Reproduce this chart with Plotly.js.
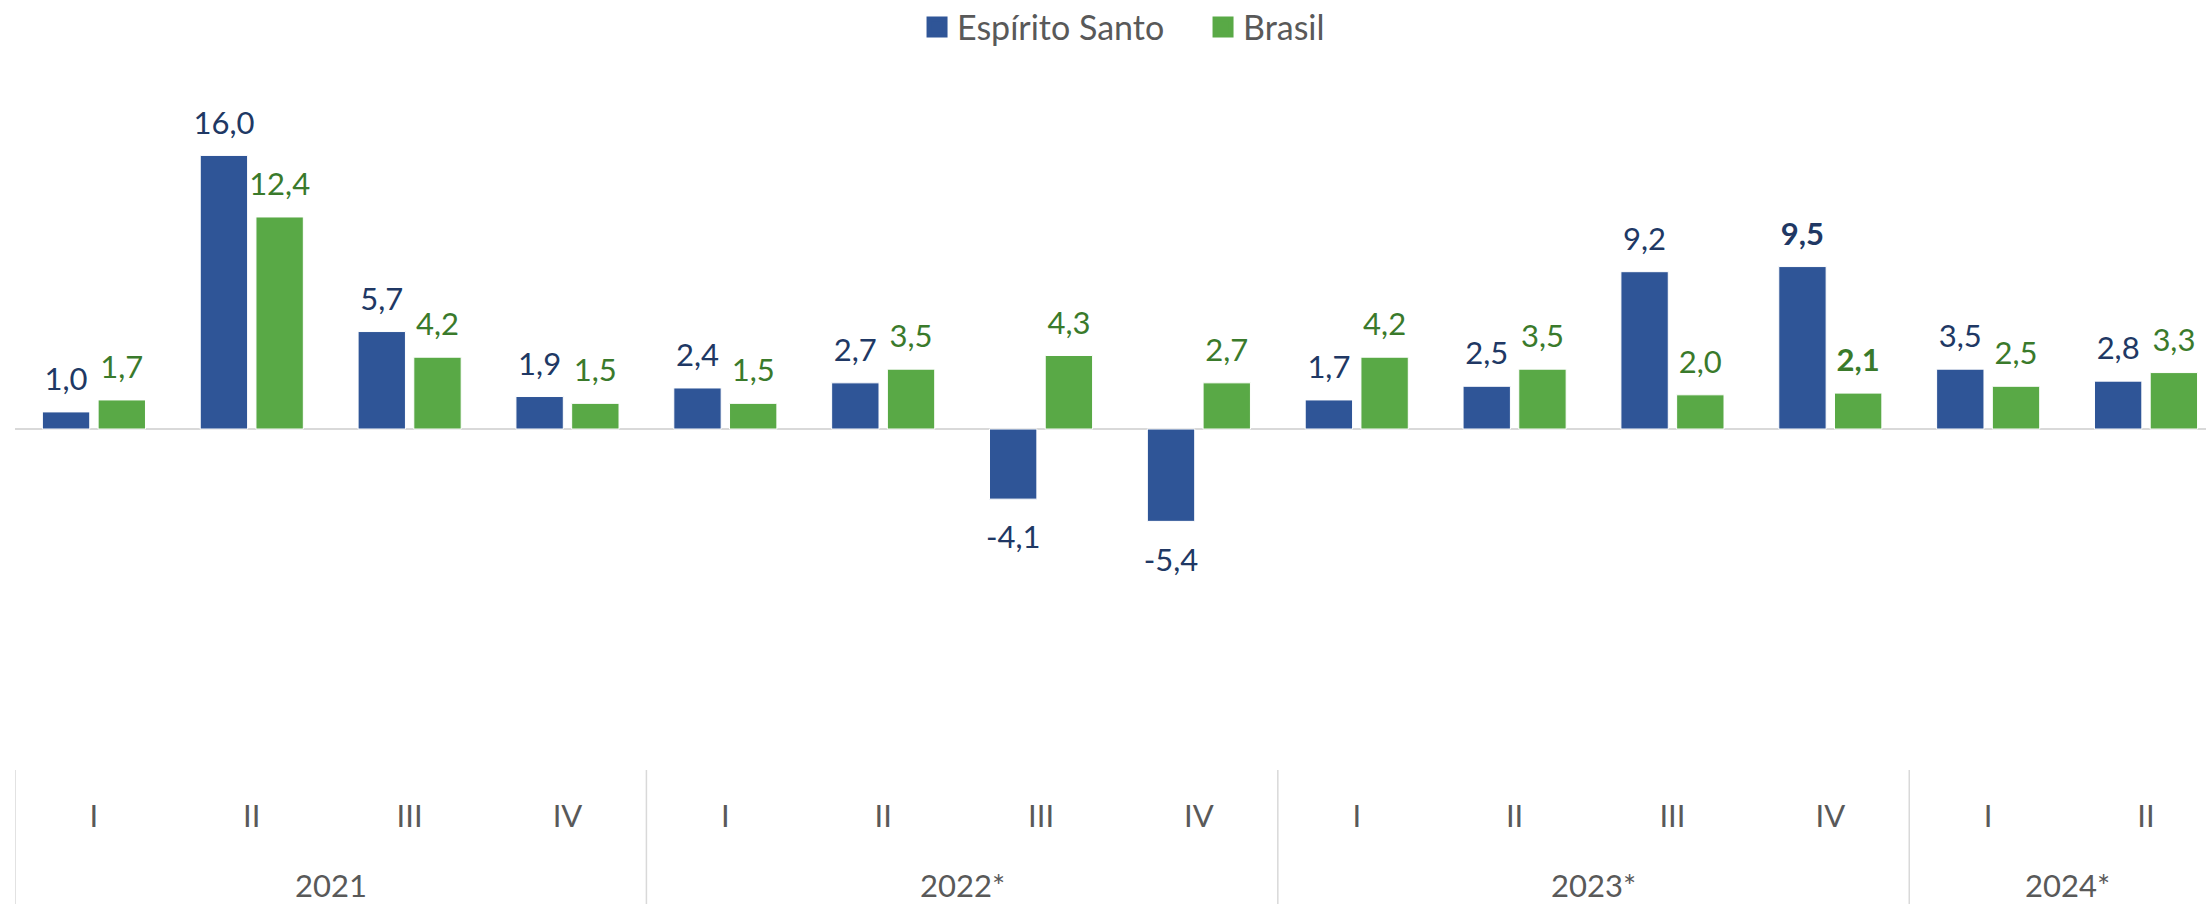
<!DOCTYPE html>
<html>
<head>
<meta charset="utf-8">
<script src="https://cdn.plot.ly/plotly-3.0.1.min.js"></script>
<style>html,body{margin:0;padding:0;background:#fff;}</style>
</head>
<body>
<div id="chart" style="width:2206px;height:904px;"></div>
<script>
// ---- data ----
const years = ['2021','2021','2021','2021','2022*','2022*','2022*','2022*','2023*','2023*','2023*','2023*','2024*','2024*'];
const quarters = ['I','II','III','IV','I','II','III','IV','I','II','III','IV','I','II'];
const espiritoSanto = [1.0, 16.0, 5.7, 1.9, 2.4, 2.7, -4.1, -5.4, 1.7, 2.5, 9.2, 9.5, 3.5, 2.8];
const brasil = [1.7, 12.4, 4.2, 1.5, 1.5, 3.5, 4.3, 2.7, 4.2, 3.5, 2.0, 2.1, 2.5, 3.3];
const highlighted = [false,false,false,false,false,false,false,false,false,false,false,true,false,false];
const seriesNames = ['Espírito Santo', 'Brasil'];

// ---- styles ----
const barColors = ['#2F5597', '#59A946'];
const labelColors = ['#203864', '#3A7A2B'];
const groups = ['es', 'br'];
const FONT = 'Lato, "Open Sans", sans-serif';
const GRAY = '#595959';

const cats = years.map((y, i) => y + ' ' + quarters[i]);
const fmt = v => v.toFixed(1).replace('.', ',');

const traces = [];
[espiritoSanto, brasil].forEach((vals, k) => {
  // legend entry
  traces.push({
    type: 'scatter', mode: 'markers', x: [null], y: [null],
    name: seriesNames[k], offsetgroup: groups[k], orientation: 'v',
    marker: {symbol: 'square', size: 16, color: barColors[k], line: {color: barColors[k], width: 5}},
    hoverinfo: 'skip', showlegend: true
  });
});
[espiritoSanto, brasil].forEach((vals, k) => {
  traces.push({
    type: 'bar', x: cats, y: vals, name: seriesNames[k], offsetgroup: groups[k],
    marker: {color: barColors[k], line: {color: '#ffffff', width: 1}},
    hoverinfo: 'skip', showlegend: false
  });
});
[espiritoSanto, brasil].forEach((vals, k) => {
  traces.push({
    type: 'scatter', mode: 'markers+text', x: cats, y: vals, name: seriesNames[k],
    offsetgroup: groups[k], orientation: 'v',
    text: vals.map(fmt),
    texttemplate: highlighted.map(h => h ? '<b>%{text}</b>' : '%{text}'),
    textposition: vals.map(v => v < 0 ? 'bottom center' : 'top center'),
    textfont: {family: FONT, size: 31, color: labelColors[k]},
    marker: {size: vals.map(v => v < 0 ? 40 : 21), color: 'rgba(0,0,0,0)',
             opacity: 0, line: {width: 0, color: 'rgba(0,0,0,0)'}},
    cliponaxis: false, hoverinfo: 'skip', showlegend: false
  });
});

// year group dividers and labels
const shapes = [];
const annotations = [];
let start = 0;
years.forEach((y, i) => {
  if (i === 0 || y !== years[i - 1]) {
    shapes.push({type: 'line', xref: 'x', yref: 'paper', x0: i - 0.5, x1: i - 0.5, y0: 0, y1: -0.3,
                 line: {color: '#d9d9d9', width: 1.5}});
  }
  if (i === years.length - 1 || years[i + 1] !== y) {
    annotations.push({xref: 'x', yref: 'paper', x: (start + i) / 2, y: 0, yanchor: 'top', yshift: -94,
                      text: y, showarrow: false, font: {family: FONT, size: 31, color: GRAY}});
    start = i + 1;
  }
});

const layout = {
  width: 2206, height: 904,
  margin: {l: 15, r: 0, t: 60, b: 134},
  paper_bgcolor: '#ffffff', plot_bgcolor: '#ffffff',
  font: {family: FONT, color: GRAY},
  barmode: 'group', bargap: 0.294, bargroupgap: 0.15,
  scattermode: 'group', scattergap: 0.294,
  showlegend: true,
  legend: {orientation: 'h', xref: 'container', yref: 'container', x: 0.4157, xanchor: 'left',
           y: 0.9696, yanchor: 'middle', font: {family: FONT, size: 34, color: GRAY},
           entrywidth: 241, entrywidthmode: 'pixels', bgcolor: 'rgba(0,0,0,0)'},
  xaxis: {type: 'category', range: [-0.5, 13.38], autorange: false,
          tickmode: 'array', tickvals: cats, ticktext: quarters,
          tickfont: {family: FONT, size: 31, color: GRAY},
          showgrid: false, showline: false, zeroline: false, ticks: '', ticklabelstandoff: 25},
  yaxis: {range: [-19.94, 21.58], autorange: false, showticklabels: false, showgrid: false,
          zeroline: true, zerolinecolor: '#d9d9d9', zerolinewidth: 2, showline: false, ticks: ''},
  shapes: shapes,
  annotations: annotations
};

Plotly.newPlot('chart', traces, layout, {displayModeBar: false, staticPlot: true});
</script>
</body>
</html>
